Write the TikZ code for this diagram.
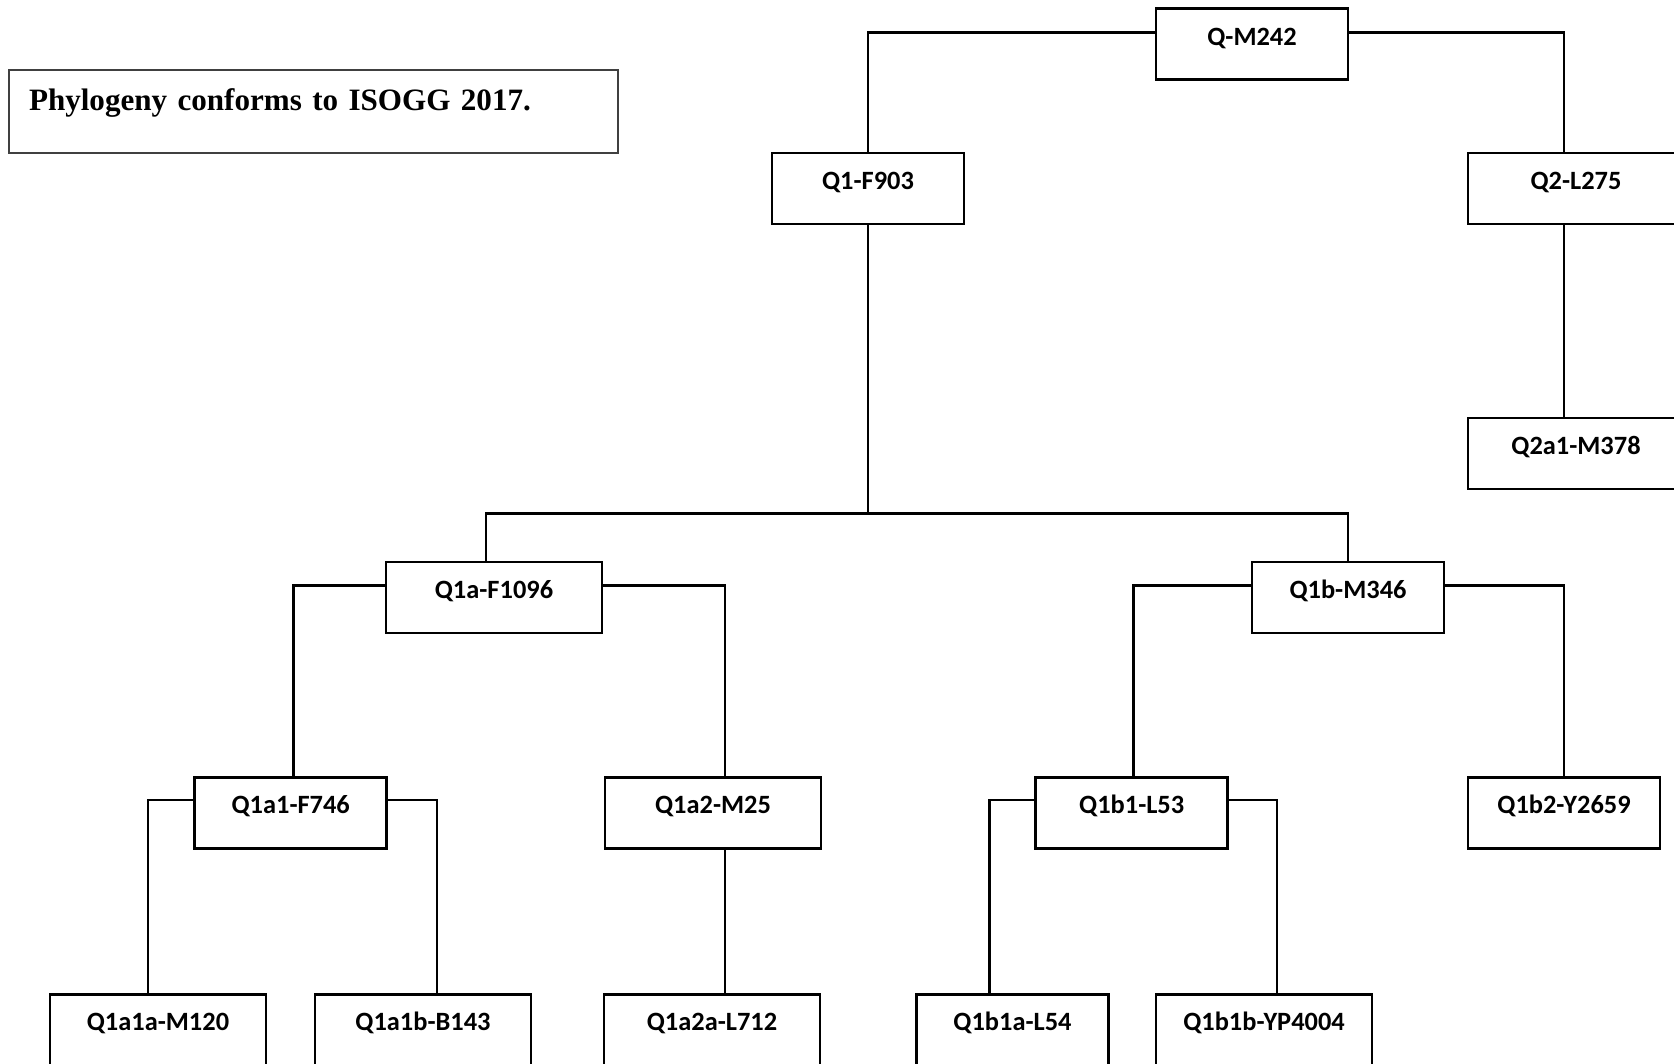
\documentclass[tikz,border=0pt]{standalone}
\usepackage{fontspec}
\usetikzlibrary{calc}
\newfontfamily\boxfont{Carlito}
\newfontfamily\notefont{Liberation Serif}
\begin{document}
\begin{tikzpicture}[x=0.5pt,y=-0.5pt,
  hap/.style={draw=black, line width=1.25pt, rectangle, inner sep=0pt, anchor=north,
    minimum height=35.5pt, text height=18.25pt, text depth=17.25pt,
    font=\boxfont\bfseries\fontsize{13.2pt}{15pt}\selectfont},
  narrow/.style={hap, minimum width=96pt},
  wide/.style={hap, minimum width=108pt},
  link/.style={draw=black, line width=1.4pt},
]
\useasboundingbox (0,0) rectangle (1674,1064);

% note box
\node[draw=black!75, line width=1pt, anchor=north west, inner ysep=0pt, inner xsep=10.25pt,
  text width=284pt, align=left, text height=20.5pt, text depth=21pt,
  font=\notefont\bfseries\fontsize{15.55pt}{18pt}\selectfont] (note) at (7.5,69)
  {Phylogeny conforms to ISOGG 2017.};

% haplogroup boxes
\node[narrow] (QM242) at (1252,7.5) {Q-M242};
\node[narrow] (Q1)    at (868,152) {Q1-F903};
\node[wide]   (Q2)    at (1576,152) {Q2-L275};
\node[wide]   (Q2a1)  at (1576,416.5) {Q2a1-M378};
\node[wide]   (Q1a)   at (494,560.5) {Q1a-F1096};
\node[narrow] (Q1b)   at (1348,560.5) {Q1b-M346};
\node[narrow] (Q1a1)  at (290.7,776) {Q1a1-F746};
\node[wide]   (Q1a2)  at (713,776) {Q1a2-M25};
\node[narrow] (Q1b1)  at (1131.7,776) {Q1b1-L53};
\node[narrow] (Q1b2)  at (1564,776) {Q1b2-Y2659};
\node[wide]   (Q1a1a) at (158,993) {Q1a1a-M120};
\node[wide]   (Q1a1b) at (423,993) {Q1a1b-B143};
\node[wide]   (Q1a2a) at (712,993) {Q1a2a-L712};
\node[narrow] (Q1b1a) at (1012.5,993) {Q1b1a-L54};
\node[wide]   (Q1b1b) at (1264,993) {Q1b1b-YP4004};

% branches
\draw[link] ([yshift=-12.5pt]QM242.north west) -| (Q1.north);
\draw[link] ([yshift=-12.5pt]QM242.north east) -| ([xshift=-6pt]Q2.north);
\draw[link] ([xshift=-6pt]Q2.south) -- ([xshift=-6pt]Q2a1.north);

\coordinate (fork) at ($(Q1.south)+(0,288)$);
\draw[link] (Q1.south) -- (fork);
\draw[link] ([xshift=-4pt]Q1a.north) |- (fork) -| (Q1b.north);

\draw[link] ([yshift=-12.5pt]Q1a.north west) -| ([xshift=1.5pt]Q1a1.north);
\draw[link] ([yshift=-12.5pt]Q1a.north east) -| ([xshift=6pt]Q1a2.north);
\draw[link] ([yshift=-12.5pt]Q1b.north west) -| ([xshift=1pt]Q1b1.north);
\draw[link] ([yshift=-12.5pt]Q1b.north east) -| (Q1b2.north);

\draw[link] ([yshift=-12pt]Q1a1.north west) -| ([xshift=-5pt]Q1a1a.north);
\draw[link] ([yshift=-12pt]Q1a1.north east) -| ([xshift=7pt]Q1a1b.north);
\draw[link] ([xshift=6pt]Q1a2.south) -- ([xshift=6.5pt]Q1a2a.north);
\draw[link] ([yshift=-12pt]Q1b1.north west) -| ([xshift=-11.5pt]Q1b1a.north);
\draw[link] ([yshift=-12pt]Q1b1.north east) -| ([xshift=6.5pt]Q1b1b.north);
\end{tikzpicture}
\end{document}
